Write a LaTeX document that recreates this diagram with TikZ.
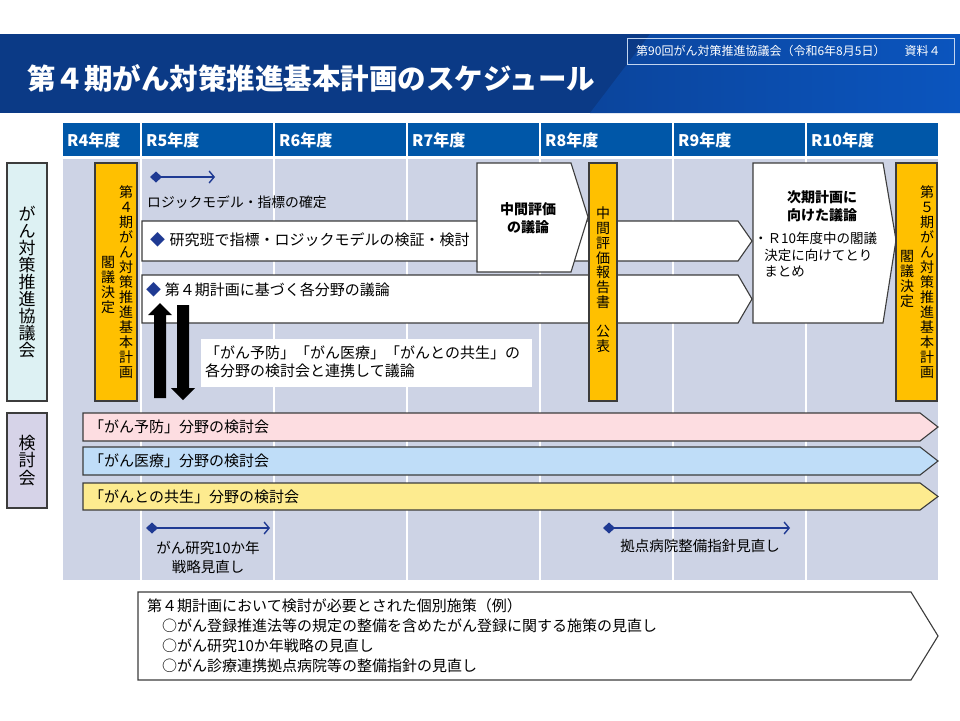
\documentclass[tikz,border=0pt]{standalone}
\usepackage{fontspec}
\setmainfont{Noto Sans CJK JP}
\usepackage{xcolor}
\usetikzlibrary{arrows.meta,positioning,calc}

\definecolor{bannerdark}{HTML}{0B3A86}
\definecolor{bannerlight}{HTML}{0B55BE}
\definecolor{yearblue}{HTML}{0057A8}
\definecolor{gridgrey}{HTML}{CDD3E5}
\definecolor{planyellow}{HTML}{FFC000}
\definecolor{navy}{HTML}{1F3A93}
\definecolor{councilcyan}{HTML}{DDF1F3}
\definecolor{meetlilac}{HTML}{D6D3E8}
\definecolor{preventpink}{HTML}{FDDDE1}
\definecolor{careblue}{HTML}{BFDDF8}
\definecolor{livingyellow}{HTML}{FDEB8F}
\definecolor{edgegrey}{HTML}{3C3C3C}

\tikzset{
  yearcell/.style={fill=yearblue},
  yeartext/.style={anchor=west, text=white, inner sep=0, font=\bfseries\fontsize{16}{16}\selectfont},
  vtext/.style={align=center, inner sep=0, anchor=north, font=\fontsize{14}{15}\selectfont},
  body/.style={anchor=west, inner sep=0, font=\fontsize{15}{18}\selectfont},
  outline/.style={draw=edgegrey, line width=1.1pt},
  darrow/.style={navy, line width=1.4pt, {Diamond[width=11pt,length=12pt]}-{Straight Barb[width=12pt,length=5pt]}},
}

\begin{document}
\begin{tikzpicture}[x=1pt,y=-1pt]
    \useasboundingbox (0,0) rectangle (960,720);
    \fill[white] (0,0) rectangle (960,720);

    % Banner
    \fill[bannerdark] (0,34) rectangle (960,113);
    \shade[left color=bannerdark!60!bannerlight, right color=bannerlight] (590,113) -- (650,34) -- (960,34) -- (960,113) -- cycle;
    \node[text=white, anchor=west, inner sep=0, font=\bfseries\fontsize{28.5}{29}\selectfont] (title) at (27,78) {第４期がん対策推進基本計画のスケジュール};
    \draw[white!75!bannerlight, line width=0.9pt] (627,38) rectangle (954,64);
    \node[text=white, anchor=west, inner sep=0, font=\fontsize{12}{12}\selectfont] (meeting) at (636,51) {第90回がん対策推進協議会（令和6年8月5日）\hspace{1.6em}資料４};

    % Year header
    \foreach \yr/\xa/\xb [count=\i] in {R4/63/140, R5/142/273, R6/275/406, R7/408/539, R8/541/672, R9/674/805, R10/807/938} {
        \fill[yearcell] (\xa,123) rectangle (\xb,156);
        \node[yeartext] (year\i) at (\xa+4,140) {\yr 年度};
    }

    % Time grid
    \fill[gridgrey] (63,159) rectangle (938,580);
    \foreach \x in {141,274,407,540,673,806}
        \draw[white, line width=1.5pt] (\x,159) -- (\x,580);

    % Side labels
    \node[outline, fill=councilcyan, minimum width=40pt, minimum height=238pt, inner sep=0, align=center, font=\fontsize{17}{17}\selectfont] (council) at (27,282) {が\\ん\\対\\策\\推\\進\\協\\議\\会};
    \node[outline, fill=meetlilac, minimum width=40pt, minimum height=95pt, inner sep=0, align=center, font=\fontsize{17}{17.5}\selectfont] (meetings) at (27,460.5) {検\\討\\会};

    % Fourth plan decision
    \draw[outline, fill=planyellow] (95,163) rectangle (137,401);
    \node[vtext] (plan4) at (126,185) {第\\４\\期\\が\\ん\\対\\策\\推\\進\\基\\本\\計\\画};
    \node[vtext] (plan4cab) at (108,256) {閣\\議\\決\\定};

    % Logic model
    \coordinate (logicS) at (150,177);
    \coordinate (logicE) at (215,177);
    \draw[darrow] (logicS) -- (logicE);
    \node[body, font=\fontsize{13.8}{14}\selectfont] (logic) at (147,202) {ロジックモデル・指標の確定};

    % Discussion bands
    \draw[outline, fill=white] (142,221) -- (738,221) -- (752,241) -- (738,261) -- (142,261) -- cycle;
    \node[body] (research) at (150,240) {\textcolor{navy}{◆}\hspace{0.3em}研究班で指標・ロジックモデルの検証・検討};
    \draw[outline, fill=white] (142,275) -- (738,275) -- (752,299) -- (738,323) -- (142,323) -- cycle;
    \node[body] (fields) at (146,290) {\textcolor{navy}{◆}\hspace{0.25em}第４期計画に基づく各分野の議論};

    % Mid-term evaluation
    \draw[outline, fill=white] (477,163) -- (571,163) -- (588,217) -- (571,272) -- (477,272) -- cycle;
    \node[align=center, inner sep=0, font=\bfseries\fontsize{14}{18}\selectfont] (midEval) at (528,218) {中間評価\\の議論};
    \draw[outline, fill=planyellow] (589,163) rectangle (617,401);
    \node[vtext, font=\fontsize{14}{14.7}\selectfont] (midReport) at (603,207) {中\\間\\評\\価\\報\\告\\書\\\\公\\表};

    % Next plan
    \draw[outline, fill=white] (753,163) -- (883,163) -- (896,240) -- (883,323) -- (753,323) -- cycle;
    \node[align=center, inner sep=0, font=\bfseries\fontsize{14}{18}\selectfont] (nextPlan) at (822,206) {次期計画に\\向けた議論};
    \node[anchor=north west, align=left, inner sep=0, font=\fontsize{13.5}{16.5}\selectfont] (nextNote) at (754,232) {・Ｒ10年度中の閣議\\\hspace{0.75em}決定に向けてとり\\\hspace{0.75em}まとめ};

    % Fifth plan decision
    \draw[outline, fill=planyellow] (896,163) rectangle (937,401);
    \node[vtext] (plan5) at (927,185) {第\\５\\期\\が\\ん\\対\\策\\推\\進\\基\\本\\計\\画};
    \node[vtext] (plan5cab) at (907,250) {閣\\議\\決\\定};

    % Link with the meetings
    \fill[black] (160,303) -- (172,315) -- (166,315) -- (166,398) -- (154,398) -- (154,315) -- (148,315) -- cycle;
    \fill[black] (183,400) -- (195,388) -- (189,388) -- (189,305) -- (177,305) -- (177,388) -- (171,388) -- cycle;
    \fill[white] (201,339) rectangle (532,387);
    \node[body, align=left] (link) at (205,362) {「がん予防」「がん医療」「がんとの共生」の\\各分野の検討会と連携して議論};

    % Field meetings
    \draw[outline, fill=preventpink] (83,413) -- (920,413) -- (938,427) -- (920,441) -- (83,441) -- cycle;
    \node[body] (prevent) at (89,427) {「がん予防」分野の検討会};
    \draw[outline, fill=careblue] (83,447) -- (920,447) -- (938,461) -- (920,475) -- (83,475) -- cycle;
    \node[body] (care) at (89,461) {「がん医療」分野の検討会};
    \draw[outline, fill=livingyellow] (83,483) -- (920,483) -- (938,496.5) -- (920,510) -- (83,510) -- cycle;
    \node[body] (living) at (89,496.5) {「がんとの共生」分野の検討会};

    % Strategy reviews
    \coordinate (stratS) at (146,528);
    \coordinate (stratE) at (270,528);
    \draw[darrow] (stratS) -- (stratE);
    \node[align=center, inner sep=0, font=\fontsize{14.5}{19}\selectfont] (strategy) at (208,557) {がん研究10か年\\戦略見直し};
    \coordinate (hospS) at (603,528);
    \coordinate (hospE) at (790,528);
    \draw[darrow] (hospS) -- (hospE);
    \node[inner sep=0, font=\fontsize{14.5}{19}\selectfont] (hospital) at (700,546) {拠点病院整備指針見直し};

    % Individual measures
    \draw[outline, fill=white] (138,592) -- (911,592) -- (938,636) -- (911,680) -- (138,680) -- cycle;
    \node[body, align=left, font=\fontsize{15}{20}\selectfont] (measures) at (147,635.5) {第４期計画において検討が必要とされた個別施策（例）\\
        　○がん登録推進法等の規定の整備を含めたがん登録に関する施策の見直し\\
        　○がん研究10か年戦略の見直し\\
        　○がん診療連携拠点病院等の整備指針の見直し};
\end{tikzpicture}
\end{document}
